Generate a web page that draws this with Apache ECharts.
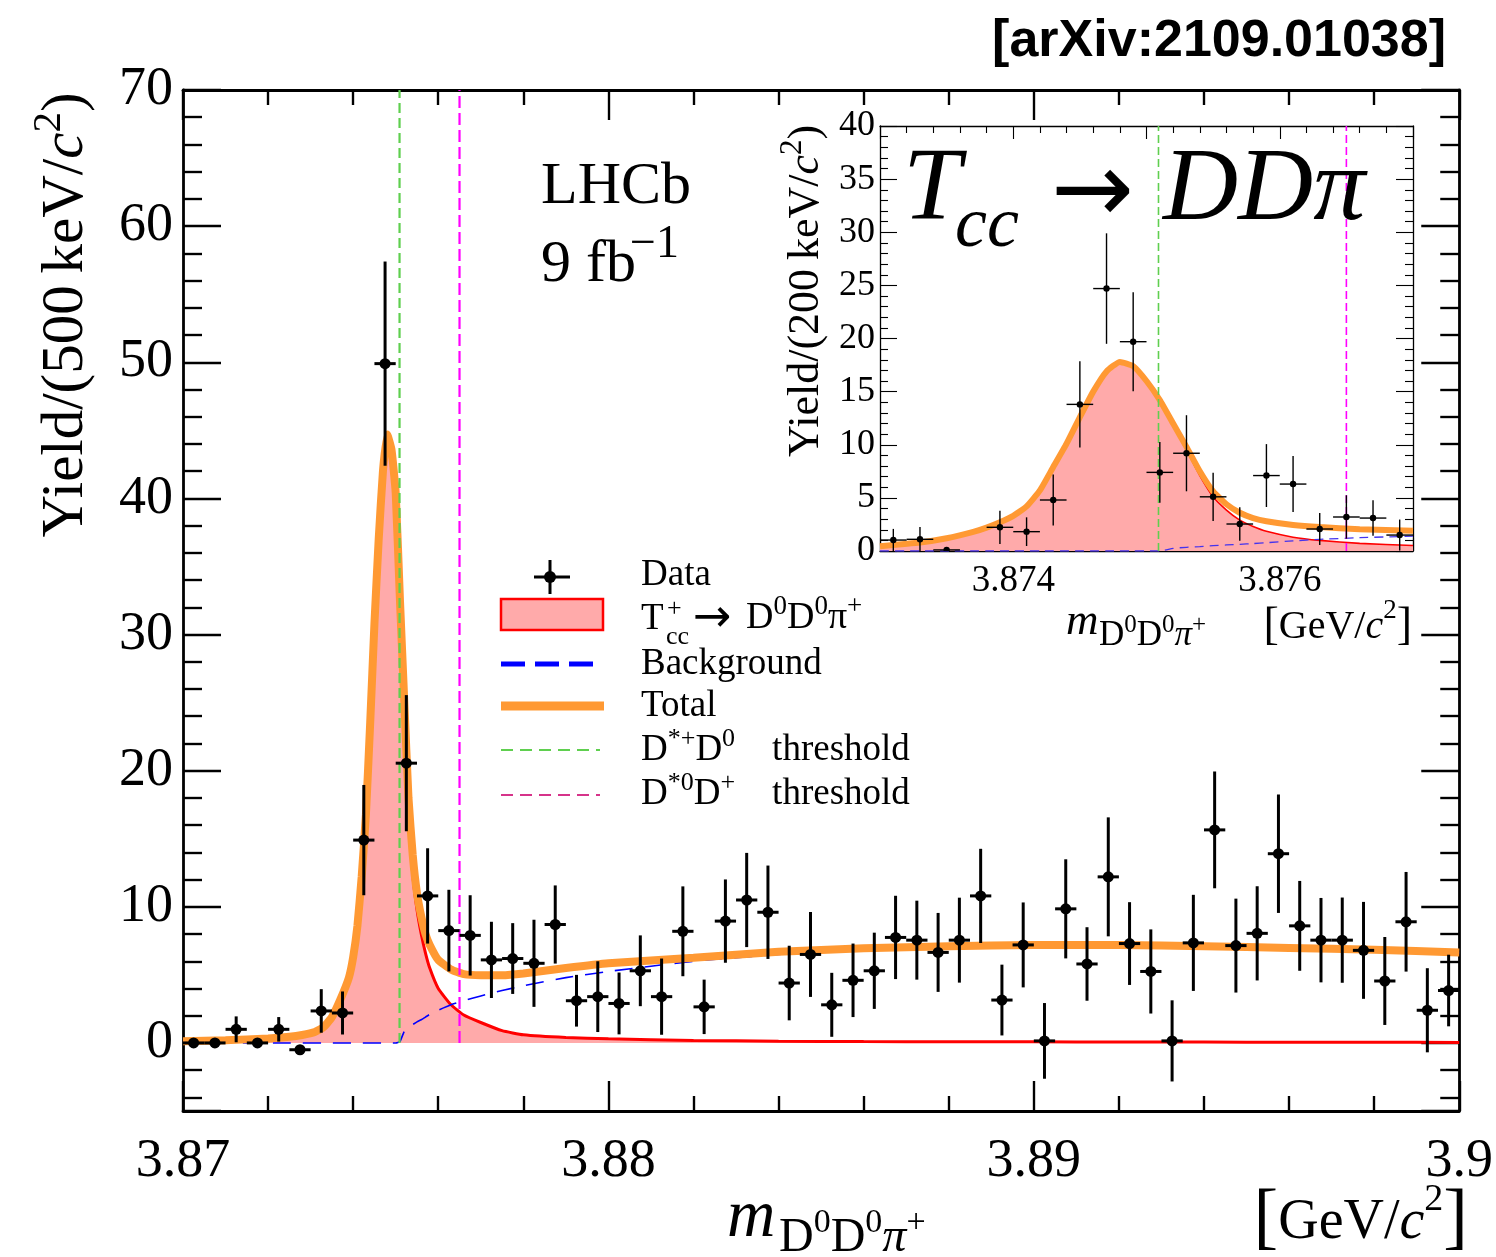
<!DOCTYPE html>
<html><head><meta charset="utf-8">
<script src="https://cdn.jsdelivr.net/npm/echarts/dist/echarts.min.js"></script>
<style>html,body{margin:0;padding:0;background:#fff}#c{width:1496px;height:1257px}</style>
</head><body><div id="c"></div>
<script>
// ---------------- data ----------------
// main histogram: 500 keV bins
const mainX = [3.87025,3.87075,3.87125,3.87175,3.87225,3.87275,3.87325,3.87375,3.87425,3.87475,
  3.87525,3.87575,3.87625,3.87675,3.87725,3.87775,3.87825,3.87875,3.87925,3.87975,
  3.88025,3.88075,3.88125,3.88175,3.88225,3.88275,3.88325,3.88375,3.88425,3.88475,
  3.88525,3.88575,3.88625,3.88675,3.88725,3.88775,3.88825,3.88875,3.88925,3.88975,
  3.89025,3.89075,3.89125,3.89175,3.89225,3.89275,3.89325,3.89375,3.89425,3.89475,
  3.89525,3.89575,3.89625,3.89675,3.89725,3.89775,3.89825,3.89875,3.89925,3.89975];
const mainY = [0,0,1.0,0,1.0,-0.5,2.35,2.2,14.9,49.9,
  20.55,10.8,8.25,7.9,6.1,6.2,5.85,8.7,3.1,3.4,
  2.9,5.3,3.4,8.2,2.65,8.95,10.5,9.6,4.4,6.5,
  2.8,4.6,5.3,7.75,7.55,6.65,7.55,10.8,3.15,7.2,
  0.15,9.85,5.8,12.2,7.3,5.25,0.15,7.35,15.65,7.15,
  8.05,13.9,8.6,7.55,7.55,6.8,4.55,8.9,2.4,3.85];
const mainErr = [0.3,0.3,0.95,0.3,0.9,0.35,1.6,1.58,4.05,7.5,
  5.0,3.5,3.0,2.95,2.8,2.6,3.2,2.87,1.9,2.6,
  2.27,2.6,2.8,3.3,2.0,3.06,3.46,3.43,2.74,3.12,
  2.35,2.7,2.8,3.06,2.9,2.9,3.12,3.46,2.6,3.12,
  2.78,3.64,2.7,4.37,3.04,3.09,2.98,3.53,4.29,3.45,
  3.46,4.35,3.3,3.1,3.13,3.56,3.23,3.66,3.09,2.63];
const mainHalfBin = 0.00025;

// fit curves of the main plot
const curveX = [3.8700,3.8710,3.8720,3.8725,3.8728,3.8731,3.8733,3.8735,3.8737,3.8739,3.8740,
  3.8741,3.8742,3.8743,3.8744,3.8745,3.8746,3.8747,3.8748,3.8749,3.8750,3.8751,3.8752,3.8753,
  3.8754,3.8755,3.8756,3.8757,3.8758,3.8760,3.8763,3.8766,3.8770,3.8775,3.8780,3.8790,3.8800,
  3.8820,3.8840,3.8860,3.8880,3.8900,3.8920,3.8940,3.8960,3.8980,3.9000];
const totY = [0.12,0.2,0.33,0.45,0.58,0.8,1.15,1.9,3.2,4.8,6.3,
  8.6,12.2,16.8,23.5,30.8,37.0,42.0,44.7,43.6,40.4,32.5,25.2,18.0,
  13.8,11.0,9.3,8.0,7.2,6.1,5.4,5.05,4.97,4.97,5.1,5.5,5.85,
  6.25,6.7,6.95,7.1,7.2,7.2,7.1,6.98,6.85,6.65];
const sigY = [0.12,0.2,0.33,0.45,0.58,0.8,1.15,1.9,3.2,4.8,6.3,
  8.6,12.2,16.8,23.5,30.8,37.0,42.0,44.7,43.6,40.4,32.4,24.3,16.9,
  12.4,9.8,8.0,6.6,5.5,4.0,2.8,2.05,1.5,0.9,0.6,0.4,0.3,
  0.18,0.13,0.1,0.09,0.08,0.07,0.06,0.05,0.05,0.04];
const bkgY = [0,0,0,0,0,0,0,0,0,0,0,
  0,0,0,0,0,0,0,0,0,0,0.1,0.85,1.15,
  1.35,1.55,1.7,1.9,2.1,2.4,2.8,3.1,3.45,3.85,4.2,4.8,5.25,
  6.0,6.5,6.8,7.0,7.1,7.1,7.0,6.9,6.8,6.6];

// inset histogram: 200 keV bins
const insetX = [3.8731,3.8733,3.8735,3.8737,3.8739,3.8741,3.8743,3.8745,3.8747,3.8749,
  3.8751,3.8753,3.8755,3.8757,3.8759,3.8761,3.8763,3.8765,3.8767,3.8769];
const insetY = [1.03,1.1,0.1,null,2.23,1.82,4.8,13.8,24.7,19.7,
  7.4,9.2,5.1,2.54,7.1,6.3,2.07,3.2,3.1,1.5];
const insetErr = [1.05,1.16,0.1,null,1.57,1.35,2.4,4.05,5.2,4.66,
  2.85,3.58,2.27,1.57,2.96,2.63,1.5,2.04,1.67,1.46];
const insetHalfBin = 0.0001;

const insetCurveX = [3.8730,3.8733,3.8735,3.8737,3.8738,3.8739,3.8740,3.8741,3.8742,3.8743,3.8744,
  3.8745,3.8746,3.8747,3.8748,3.8749,3.8750,3.8751,3.8752,3.8753,3.8754,3.8755,3.8756,3.8757,
  3.8758,3.8759,3.8761,3.8763,3.8766,3.8770];
const insetTot = [0.45,0.8,1.2,1.8,2.2,2.7,3.3,4.2,5.7,7.9,10.1,
  12.6,15.0,16.9,17.8,17.4,16.0,14.2,12.0,9.8,7.5,5.6,4.4,3.6,
  3.1,2.8,2.45,2.25,2.05,1.9];
const insetSig = [0.45,0.8,1.2,1.8,2.2,2.7,3.3,4.2,5.7,7.9,10.1,
  12.6,15.0,16.9,17.8,17.4,16.0,14.2,11.8,9.5,7.1,5.1,3.85,2.9,
  2.3,1.85,1.3,1.0,0.72,0.52];
const insetBkg = [0,0,0,0,0,0,0,0,0,0,0,
  0,0,0,0,0,0,0,0.25,0.35,0.42,0.5,0.57,0.63,
  0.7,0.78,0.95,1.1,1.25,1.4];

// thresholds (GeV)
const thrDstpD0 = 3.87509;
const thrDst0Dp = 3.87650;

// tick labels
const insetXLabels = [3.874, 3.876];

// ---------------- helpers ----------------
const serif = "'Liberation Serif','Times New Roman',serif";
const arrowFont = "'DejaVu Sans',sans-serif";
const ORANGE = '#ff9933', PINK = '#ffaaaa', GREEN = '#5fcf4f', MAGENTA = '#ff00ff';
const zip = (xs, ys) => xs.map((x, i) => [x, ys[i]]);

function errRender(hw, lw, r) {
  return function (params, api) {
    const x = api.value(0), y = api.value(1), e = api.value(2);
    const c = api.coord([x, y]);
    const t = api.coord([x, y + e]);
    const b = api.coord([x, y - e]);
    const l = api.coord([x - hw, y]);
    const rr = api.coord([x + hw, y]);
    const st = {stroke: '#000', lineWidth: lw};
    return {type: 'group', children: [
      {type: 'line', shape: {x1: c[0], y1: t[1], x2: c[0], y2: b[1]}, style: st},
      {type: 'line', shape: {x1: l[0], y1: c[1], x2: rr[0], y2: c[1]}, style: st},
      {type: 'circle', shape: {cx: c[0], cy: c[1], r: r}, style: {fill: '#000'}}
    ]};
  };
}

function txt(x, y, text, size, o) {
  o = o || {};
  return {type: 'text', x: x, y: y, rotation: o.rot || 0, z: 100, silent: true,
    style: {text: text, fill: '#000', fontSize: size, fontFamily: o.family || serif,
      fontStyle: o.italic ? 'italic' : 'normal', fontWeight: o.bold ? 'bold' : 'normal',
      align: o.align || 'left', verticalAlign: o.va || 'middle', rich: o.rich}};
}
function rs(base) {
  return {
    a: {fontSize: base, fontFamily: serif, height: base, verticalAlign: 'bottom'},
    i: {fontSize: base, fontFamily: serif, fontStyle: 'italic', height: base, verticalAlign: 'bottom'},
    p: {fontSize: Math.round(base * 0.7), fontFamily: serif, height: Math.round(base * 1.6), verticalAlign: 'bottom'}
  };
}

// axes
const tickLine = w => ({color: '#000', width: w});
function xAx(grid, pos, min, max, interval, majLen, minLen, lw, labels) {
  return {type: 'value', gridIndex: grid, position: pos, min: min, max: max, interval: interval,
    axisLine: {show: true, onZero: false, lineStyle: tickLine(lw)},
    axisTick: {show: true, inside: true, length: majLen, lineStyle: tickLine(lw * 0.85)},
    minorTick: {show: true, splitNumber: 5, length: minLen, lineStyle: tickLine(lw * 0.85)},
    splitLine: {show: false}, minorSplitLine: {show: false},
    axisLabel: labels || {show: false}};
}
function yAx(grid, pos, opt, majLen, minLen, lw, labels) {
  return Object.assign({type: 'value', gridIndex: grid, position: pos,
    axisLine: {show: true, onZero: false, lineStyle: tickLine(lw)},
    axisTick: {show: true, inside: true, length: majLen, lineStyle: tickLine(lw * 0.85)},
    minorTick: {show: true, splitNumber: 5, length: minLen, lineStyle: tickLine(lw * 0.85)},
    splitLine: {show: false}, minorSplitLine: {show: false},
    axisLabel: labels || {show: false}}, opt);
}

const mainYOpt = {min: -5, max: 70, splitNumber: 8, minInterval: 10, maxInterval: 10};
const insetYOpt = {min: 0, max: 40, interval: 5};

const option = {
  animation: false,
  backgroundColor: '#fff',
  grid: [
    {left: 183, top: 90, width: 1278, height: 1021, show: false},
    {left: 880, top: 126, width: 533, height: 425, show: true, backgroundColor: '#fff', borderWidth: 0}
  ],
  xAxis: [
    xAx(0, 'bottom', 3.87, 3.9, 0.01, 30, 15, 2.8,
      {show: true, fontFamily: serif, fontSize: 54, color: '#000', margin: 24}),
    xAx(0, 'top', 3.87, 3.9, 0.01, 30, 15, 2.8),
    xAx(1, 'bottom', 3.873, 3.877, 0.001, 13, 7, 1.3,
      {show: true, fontFamily: serif, fontSize: 37, color: '#000', margin: 12,
        formatter: v => insetXLabels.some(l => Math.abs(l - v) < 1e-7) ? v.toFixed(3) : ''}),
    xAx(1, 'top', 3.873, 3.877, 0.001, 13, 7, 1.3)
  ],
  yAxis: [
    yAx(0, 'left', mainYOpt, 38, 19, 2.8,
      {show: true, fontFamily: serif, fontSize: 54, color: '#000', margin: 10, showMinLabel: false}),
    yAx(0, 'right', mainYOpt, 38, 19, 2.8),
    yAx(1, 'left', insetYOpt, 17, 8, 1.3,
      {show: true, fontFamily: serif, fontSize: 36, color: '#000', margin: 5}),
    yAx(1, 'right', insetYOpt, 17, 8, 1.3)
  ],
  series: [
    // ---- main ----
    {type: 'line', xAxisIndex: 0, yAxisIndex: 0, data: zip(curveX, sigY), showSymbol: false, smooth: 0.15,
      lineStyle: {color: '#ff0000', width: 3}, areaStyle: {color: PINK, opacity: 1}, z: 2},
    {type: 'line', xAxisIndex: 0, yAxisIndex: 0, data: zip(curveX, bkgY), showSymbol: false, smooth: 0.15,
      lineStyle: {color: '#0000ff', width: 1.6, type: [18, 12]}, z: 3},
    {type: 'line', xAxisIndex: 0, yAxisIndex: 0, data: zip(curveX, totY), showSymbol: false, smooth: 0.15,
      lineStyle: {color: ORANGE, width: 8}, z: 4},
    {type: 'line', xAxisIndex: 0, yAxisIndex: 0, data: [[thrDstpD0, 0], [thrDstpD0, 70]], showSymbol: false,
      lineStyle: {color: GREEN, width: 2.2, type: [10, 5]}, z: 5},
    {type: 'line', xAxisIndex: 0, yAxisIndex: 0, data: [[thrDst0Dp, 0], [thrDst0Dp, 70]], showSymbol: false,
      lineStyle: {color: MAGENTA, width: 2.2, type: [12, 5]}, z: 5},
    {type: 'custom', xAxisIndex: 0, yAxisIndex: 0, clip: true, z: 6,
      renderItem: errRender(mainHalfBin, 3, 5.5),
      data: mainX.map((x, i) => [x, mainY[i], mainErr[i]])},
    // ---- inset ----
    {type: 'line', xAxisIndex: 2, yAxisIndex: 2, data: zip(insetCurveX, insetSig), showSymbol: false, smooth: 0.15,
      lineStyle: {color: '#ff0000', width: 1.6}, areaStyle: {color: PINK, opacity: 1}, z: 2},
    {type: 'line', xAxisIndex: 2, yAxisIndex: 2, data: zip(insetCurveX, insetBkg), showSymbol: false, smooth: 0.15,
      lineStyle: {color: '#4433ee', width: 1.3, type: [9, 6]}, z: 3},
    {type: 'line', xAxisIndex: 2, yAxisIndex: 2, data: zip(insetCurveX, insetTot), showSymbol: false, smooth: 0.15,
      lineStyle: {color: ORANGE, width: 6}, z: 4},
    {type: 'line', xAxisIndex: 2, yAxisIndex: 2, data: [[thrDstpD0, 0], [thrDstpD0, 40]], showSymbol: false,
      lineStyle: {color: GREEN, width: 1.6, type: [8, 4]}, z: 5},
    {type: 'line', xAxisIndex: 2, yAxisIndex: 2, data: [[thrDst0Dp, 0], [thrDst0Dp, 40]], showSymbol: false,
      lineStyle: {color: MAGENTA, width: 1.6, type: [8, 4]}, z: 5},
    {type: 'custom', xAxisIndex: 2, yAxisIndex: 2, clip: true, z: 6,
      renderItem: errRender(insetHalfBin, 1.4, 3.2),
      data: insetX.map((x, i) => [x, insetY[i], insetErr[i]]).filter(d => d[1] !== null)}
  ],
  graphic: [
    txt(1446, 42, '[arXiv:2109.01038]', 52, {family: "'Liberation Sans',Arial,sans-serif", bold: true, align: 'right'}),
    txt(541, 187, 'LHCb', 60),
    txt(541, 265, '9 fb', 60),
    txt(630, 245, '\u22121', 46),
    // main y title
    txt(96, 315, '{a|Yield/(500\u2009keV/}{i|c}{p|2}{a|)}', 59, {rot: Math.PI / 2, align: 'center', va: 'bottom', rich: rs(59)}),
    // main x title
    txt(727, 1218, 'm', 67, {italic: true}),
    txt(779, 1262, '{a|D}{p|0}{a|D}{p|0}{i|\u03c0}{p|+}', 48, {va: 'bottom', rich: rs(48)}),
    txt(1468, 1258, '{br|[}{a|GeV/}{i|c}{p|2}{br|]}', 56, {align: 'right', va: 'bottom', rich: {
      br: {fontSize: 74, fontFamily: serif, height: 74, verticalAlign: 'bottom'},
      a: {fontSize: 56, fontFamily: serif, height: 70, verticalAlign: 'bottom'},
      i: {fontSize: 56, fontFamily: serif, fontStyle: 'italic', height: 70, verticalAlign: 'bottom'},
      p: {fontSize: 38, fontFamily: serif, height: 116, verticalAlign: 'bottom'}}}),
    // inset titles
    txt(828, 291, '{a|Yield/(200\u2009keV/}{i|c}{p|2}{a|)}', 44, {rot: Math.PI / 2, align: 'center', va: 'bottom', rich: rs(44)}),
    txt(1066, 622, 'm', 45, {italic: true}),
    txt(1099, 653, '{a|D}{p|0}{a|D}{p|0}{i|\u03c0}{p|+}', 35, {va: 'bottom', rich: rs(35)}),
    txt(1412, 652, '{br|[}{a|GeV/}{i|c}{p|2}{br|]}', 40, {align: 'right', va: 'bottom', rich: {
      br: {fontSize: 46, fontFamily: serif, height: 50, verticalAlign: 'bottom'},
      a: {fontSize: 40, fontFamily: serif, height: 50, verticalAlign: 'bottom'},
      i: {fontSize: 40, fontFamily: serif, fontStyle: 'italic', height: 50, verticalAlign: 'bottom'},
      p: {fontSize: 27, fontFamily: serif, height: 82, verticalAlign: 'bottom'}}}),
    txt(903, 192, 'T', 104, {italic: true}),
    txt(955, 227, 'cc', 72, {italic: true}),
    txt(1051, 196, '\u2192', 99, {family: arrowFont}),
    txt(1163, 192, 'DD\u03c0', 104, {italic: true}),
    // legend
    {type: 'line', z: 100, shape: {x1: 534, y1: 577, x2: 570, y2: 577}, style: {stroke: '#000', lineWidth: 3}},
    {type: 'line', z: 100, shape: {x1: 550, y1: 560, x2: 550, y2: 594}, style: {stroke: '#000', lineWidth: 3}},
    {type: 'circle', z: 100, shape: {cx: 550, cy: 577, r: 6}, style: {fill: '#000'}},
    {type: 'rect', z: 100, shape: {x: 501, y: 599, width: 102, height: 31}, style: {fill: PINK, stroke: '#ff0000', lineWidth: 2.5}},
    {type: 'line', z: 100, shape: {x1: 501, y1: 664, x2: 594, y2: 664}, style: {stroke: '#0000ff', lineWidth: 5, lineDash: [24, 10]}},
    {type: 'line', z: 100, shape: {x1: 501, y1: 706, x2: 604, y2: 706}, style: {stroke: ORANGE, lineWidth: 9}},
    {type: 'line', z: 100, shape: {x1: 501, y1: 750, x2: 600, y2: 750}, style: {stroke: GREEN, lineWidth: 2, lineDash: [12, 7]}},
    {type: 'line', z: 100, shape: {x1: 501, y1: 795, x2: 600, y2: 795}, style: {stroke: '#d6338a', lineWidth: 2, lineDash: [12, 7]}},
    txt(641, 575, 'Data', 37),
    txt(641, 619, 'T', 37),
    txt(667, 609, '+', 26),
    txt(666, 637, 'cc', 26),
    txt(693, 619, '\u2192', 46, {family: arrowFont}),
    txt(746, 619 + 18.5, '{a|D}{p|0}{a|D}{p|0}{a|\u03c0}{p|+}', 38, {va: 'bottom', rich: rs(38)}),
    txt(641, 664, 'Background', 37),
    txt(641, 706, 'Total', 37),
    txt(641, 750 + 18.5, '{a|D}{p|*+}{a|D}{p|0}{a|\u2003threshold}', 37, {va: 'bottom', rich: rs(37)}),
    txt(641, 794 + 18.5, '{a|D}{p|*0}{a|D}{p|+}{a|\u2003threshold}', 37, {va: 'bottom', rich: rs(37)})
  ]
};

const chart = echarts.init(document.getElementById('c'), null, {renderer: 'canvas'});
chart.setOption(option);
</script></body></html>
